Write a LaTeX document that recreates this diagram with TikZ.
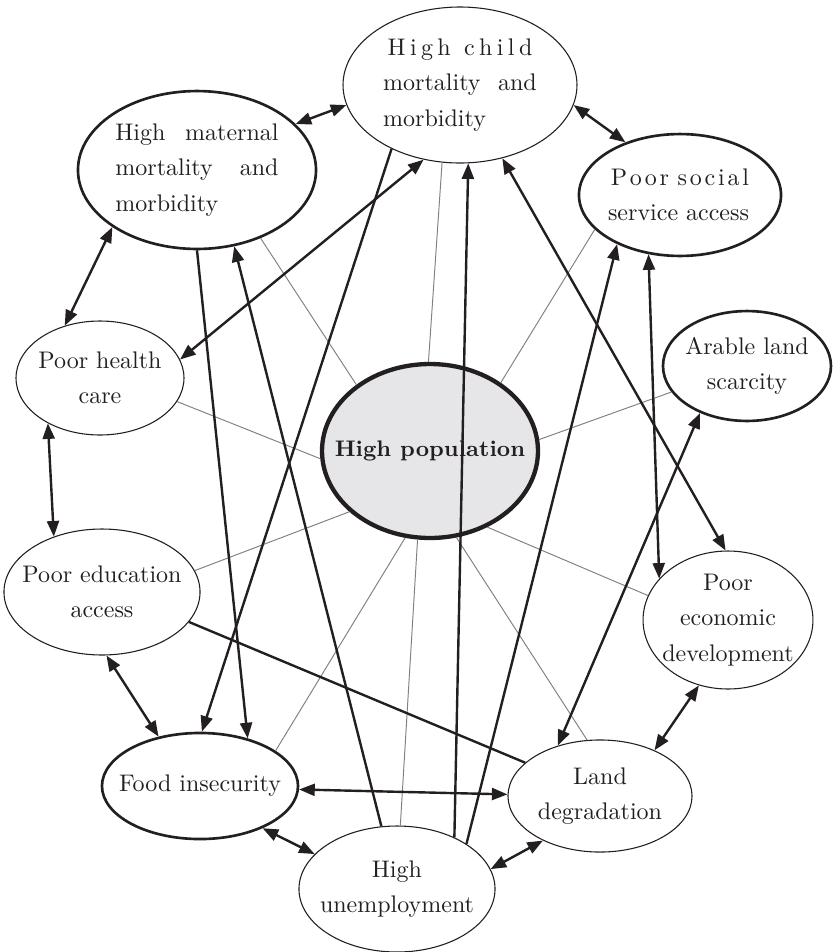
\documentclass[tikz,border=0pt]{standalone}
\usepackage{tikz}
\usetikzlibrary{shapes.geometric,arrows.meta}
\definecolor{popgray}{RGB}{230,230,232}
\definecolor{ink}{RGB}{35,31,32}
\newcommand\spreadline[1]{\makebox[\linewidth]{#1}}

\begin{document}
\begin{tikzpicture}[x=0.4167pt,y=-0.4167pt,color=ink,
    font=\fontsize{10}{14.8}\selectfont,
    bub/.style={ellipse,draw,line width=0.45pt,inner xsep=-8pt,inner ysep=0pt,align=center},
    bubthick/.style={bub,line width=1.1pt},
    sz/.style 2 args={minimum width=#1,minimum height=#2},
    spoke/.style={draw=gray,line width=0.4pt},
    twoway/.style={line width=1pt,{Triangle[length=6.5pt,width=5pt]}-{Triangle[length=6.5pt,width=5pt]}},
    oneway/.style={line width=1pt,-{Triangle[length=6.5pt,width=5pt]}},
    plain/.style={line width=1pt}]
    \useasboundingbox (0,0) rectangle (836,952);
    % the ring of causes round the centre
    \node[bub,sz={97.5pt}{65pt},text width=64pt,align=left] (child) at (460,85)
        {\spreadline{H\hfil i\hfil g\hfil h\hfil\hfil\hfil c\hfil h\hfil i\hfil l\hfil d}\\mortality\hfill and\\morbidity};
    \node[bubthick,sz={99.2pt}{65.8pt},text width=68pt,align=left] (mat) at (197,170) {High\hfill maternal\\mortality\hfill and\\morbidity};
    \node[bubthick,sz={84.2pt}{50.8pt},text width=60pt,align=left] (soc) at (680,195)
        {\spreadline{P\hfil o\hfil o\hfil r\hfil\hfil\hfil s\hfil o\hfil c\hfil i\hfil a\hfil l}\\service access};
    \node[bub,sz={70pt}{47.5pt}] (hea) at (100,378) {Poor health\\care};
    \node[bubthick,sz={70pt}{45.8pt}] (arab) at (747,366) {Arable land\\scarcity};
    \node[bub,sz={81.7pt}{52.5pt}] (edu) at (102,592) {Poor education\\access};
    \node[bub,sz={70.8pt}{57.5pt}] (econ) at (728,620) {Poor\\economic\\development};
    \node[bubthick,sz={81.7pt}{44.2pt}] (food) at (200,786) {Food insecurity};
    \node[bub,sz={76.7pt}{46.7pt}] (land) at (600,796) {Land\\degradation};
    \node[bub,sz={81.7pt}{52.5pt}] (unem) at (397,889) {High\\unemployment};
    \node[bub,line width=1.8pt,fill=popgray,sz={90pt}{72.5pt}] (pop) at (430,451) {\fontsize{9.4}{12}\selectfont\textbf{High population}};
    % grey spokes
    \draw[spoke] (pop.91) -- (child.257);
    \draw[spoke] (pop.138) -- (mat.-47);
    \draw[spoke] (pop.44) -- (soc.202);
    \draw[spoke] (pop.184) -- (hea.-17);
    \draw[spoke] (pop.6) -- (arab.199);
    \draw[spoke] (pop.217) -- (edu.13);
    \draw[spoke] (pop.-53) -- (econ.163);
    \draw[spoke] (pop.254) -- (food.25);
    \draw[spoke] (pop.262) -- (unem.87);
    \draw[spoke] (pop.-73) -- (land.103);
    % links round the ring
    \draw[twoway] (mat.25) -- (child.190);
    \draw[twoway] (child.-10) -- (soc.136);
    \draw[twoway] (mat.214) -- (hea.124);
    \draw[twoway] (hea.221) -- (edu.131);
    \draw[twoway] (edu.274) -- (food.130);
    \draw[twoway] (food.-34) -- (unem.157);
    \draw[twoway] (unem.12) -- (land.218);
    \draw[twoway] (land.40) -- (econ.246);
    % links across
    \draw[twoway] (food.-2) -- (land.179);
    \draw[twoway] (hea.13) -- (child.244);
    \draw[oneway] (child.223) -- (food.88);
    \draw[oneway] (mat.270) -- (food.45);
    \draw[oneway] (unem.104) -- (mat.-64);
    \draw[oneway] (unem.42) -- (child.-84);
    \draw[oneway] (unem.33) -- (soc.218);
    \draw[twoway] (child.-60) -- (econ.92);
    \draw[twoway] (soc.242) -- (econ.149);
    \draw[twoway] (arab.225) -- (land.130);
    \draw[plain] (edu.-19) -- (land.156);
\end{tikzpicture}
\end{document}
